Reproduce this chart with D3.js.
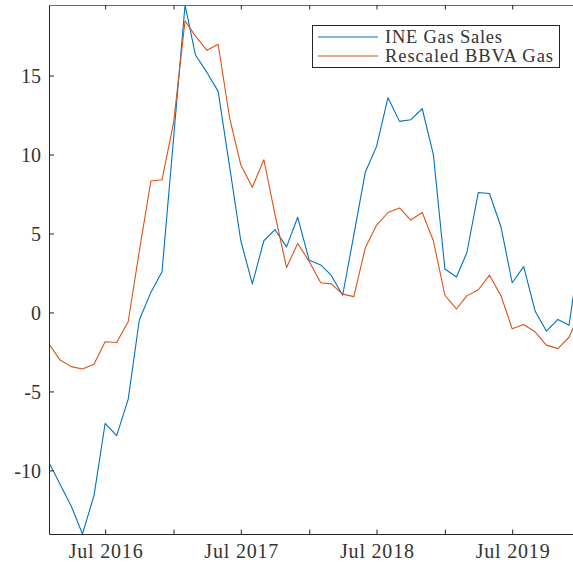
<!DOCTYPE html>
<html>
<head>
<meta charset="utf-8">
<script src="https://cdn.jsdelivr.net/npm/d3@7"></script>
<style>
  html, body { margin: 0; padding: 0; background: #fff; overflow: hidden; }
  svg { display: block; }
  text { font-family: "Liberation Serif", "DejaVu Serif", serif; fill: #333; }
</style>
</head>
<body>
<svg id="chart" width="573" height="565"></svg>
<script>
// ---- data (monthly, Feb 2016 .. Jan 2020) ----
const startMonth = "2016-02";
const endMonth = "2020-01";
const ineGasSales = [-9.5, -10.85, -12.27, -14.03, -11.6, -7.03, -7.8, -5.5, -0.48, 1.27, 2.58, 11.0,
  19.47, 16.3, 15.2, 14.0, 9.2, 4.54, 1.81, 4.54, 5.24, 4.15, 6.03, 3.30,
  3.01, 2.36, 1.09, 4.9, 8.9, 10.5, 13.6, 12.1, 12.2, 12.9, 10.0, 2.75,
  2.25, 3.78, 7.6, 7.53, 5.41, 1.88, 2.9, 0.07, -1.18, -0.44, -0.81, 4.2];
const bbvaGas = [-2.0, -2.99, -3.43, -3.58, -3.28, -1.86, -1.9, -0.59, 3.89, 8.32, 8.4, 12.0,
  18.47, 17.5, 16.6, 16.99, 12.3, 9.34, 7.93, 9.67, 6.2, 2.84, 4.37, 3.23,
  1.88, 1.81, 1.16, 1.0, 4.1, 5.52, 6.33, 6.62, 5.85, 6.33, 4.54, 1.09,
  0.22, 1.05, 1.44, 2.36, 1.05, -1.03, -0.76, -1.24, -2.07, -2.29, -1.57, 0.1];
const yTicks = [-10, -5, 0, 5, 10, 15];
const seriesNames = ["INE Gas Sales", "Rescaled BBVA Gas"];
const seriesColors = ["#0072BD", "#D95319"];

(function () {
// ---- layout ----
const parse = d3.timeParse("%Y-%m");
const t0 = parse(startMonth), t1 = parse(endMonth);
const dates = d3.timeMonth.range(t0, d3.timeMonth.offset(t1, 1));
const mLeft = 49, mTop = 5, mBottom = 534;
const monthPx = 11.31;
const mRight = mLeft + (dates.length - 1) * monthPx;

const x = d3.scaleTime().domain([t0, t1]).range([mLeft, mRight]);
const yMin = Math.min(d3.min(ineGasSales), d3.min(bbvaGas));
const yMax = Math.max(d3.max(ineGasSales.slice(0, 47)), d3.max(bbvaGas));
const y = d3.scaleLinear().domain([yMin, yMax]).range([mBottom, mTop]);

const svg = d3.select("#chart");
svg.append("defs").append("clipPath").attr("id", "clip")
  .append("rect").attr("x", mLeft).attr("y", mTop).attr("width", mRight - mLeft).attr("height", mBottom - mTop);

// lines
const line = d3.line().x((d, i) => x(dates[i])).y(d => y(d));
[ineGasSales, bbvaGas].forEach((s, k) => {
  svg.append("path").datum(s)
    .attr("clip-path", "url(#clip)")
    .attr("fill", "none")
    .attr("stroke", seriesColors[k])
    .attr("stroke-width", 1.1)
    .attr("stroke-linejoin", "round")
    .attr("d", line);
});

// x ticks: every Jan and Jul, labels on Jul
const xTickDates = d3.timeMonth.every(6).range(t0, d3.timeMonth.offset(t1, 1));
const fmt = d3.timeFormat("%b %Y");

const xAxisB = d3.axisBottom(x).tickValues(xTickDates).tickSizeInner(-4.5).tickSizeOuter(0)
  .tickFormat(d => d.getMonth() === 6 ? fmt(d) : "");
const gxb = svg.append("g").attr("transform", `translate(0,${mBottom})`).call(xAxisB);
gxb.select(".domain").attr("stroke", "#262626");
gxb.selectAll(".tick line").attr("stroke", "#262626");
gxb.selectAll(".tick text").attr("y", 24).attr("dy", 0).attr("font-size", 20)
  .attr("fill", "#333")
  .each(function () { if (this.textContent) d3.select(this).attr("textLength", 74).attr("lengthAdjust", "spacing"); });

const xAxisT = d3.axisTop(x).tickValues(xTickDates).tickSizeInner(-4.5).tickSizeOuter(0).tickFormat("");
const gxt = svg.append("g").attr("transform", `translate(0,${mTop})`).call(xAxisT);
gxt.select(".domain").attr("stroke", "#6a6a6a");
gxt.selectAll(".tick line").attr("stroke", "#262626");

const yAxis = d3.axisLeft(y).tickValues(yTicks).tickSizeInner(-5).tickSizeOuter(0).tickPadding(8)
  .tickFormat(d => String(d));
const gy = svg.append("g").attr("transform", `translate(${mLeft},0)`).call(yAxis);
gy.select(".domain").attr("stroke", "#262626");
gy.selectAll(".tick line").attr("stroke", "#262626");
gy.selectAll(".tick text").attr("font-size", 20).attr("dy", "0.34em").attr("fill", "#333");
svg.selectAll("g").attr("font-family", null);

// legend
const legendTextWidths = [117, 168];
const lg = svg.append("g");
lg.append("rect").attr("x", 312.5).attr("y", 25.5).attr("width", 247).attr("height", 42)
  .attr("fill", "#fff").attr("stroke", "#262626").attr("stroke-width", 1);
seriesNames.forEach((n, k) => {
  const yy = 37 + k * 19;
  lg.append("line").attr("x1", 318).attr("x2", 378).attr("y1", yy).attr("y2", yy)
    .attr("stroke", seriesColors[k]).attr("stroke-width", 1.1);
  lg.append("text").attr("x", 385).attr("y", yy + 6).attr("font-size", 18.5)
    .attr("textLength", legendTextWidths[k]).attr("lengthAdjust", "spacing").text(n);
});
})();
</script>
</body>
</html>
